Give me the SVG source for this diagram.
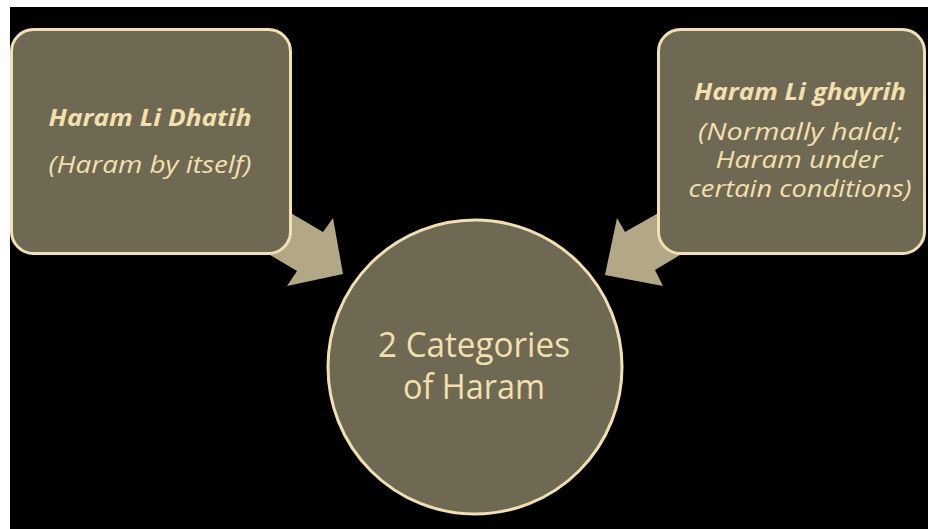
<svg xmlns="http://www.w3.org/2000/svg" width="928" height="529" viewBox="0 0 928 529">
<style>
.bg{fill:#000}
.box{fill:#6f6852;stroke:#f1e0b0;stroke-width:3}
.arrow{fill:#b3a886}
text{font-family:"Open Sans","Noto Sans","Liberation Sans",sans-serif;fill:#f2e0ae;text-anchor:middle}
.b{font-weight:bold;font-style:italic;font-size:24px}
.i{font-style:italic;font-size:24px}
.c{font-size:35px}
</style>
<rect x="0" y="0" width="928" height="529" fill="#fff"/>
<rect class="bg" x="10" y="7" width="918" height="522"/>
<g id="connectors">
<polygon class="arrow" points="260,195 323,232 333,218 343,274 287,286 297,271 255,246"/>
<polygon class="arrow" points="690,195 625,232 617,218 605,275 663,286 655,270 695,246"/>
</g>
<g id="node-left">
<rect class="box" x="11.5" y="29.5" width="279" height="224" rx="22"/>
<text class="b" x="150" y="126" textLength="203" lengthAdjust="spacingAndGlyphs">Haram Li Dhatih</text>
<text class="i" x="150" y="173" textLength="203" lengthAdjust="spacingAndGlyphs">(Haram by itself)</text>
</g>
<g id="node-right">
<rect class="box" x="658.5" y="29.5" width="266" height="224" rx="22"/>
<text class="b" x="800" y="100" textLength="212" lengthAdjust="spacingAndGlyphs">Haram Li ghayrih</text>
<text class="i" x="800" y="140" textLength="204" lengthAdjust="spacingAndGlyphs">(Normally halal;</text>
<text class="i" x="799" y="168" textLength="167" lengthAdjust="spacingAndGlyphs">Haram under</text>
<text class="i" x="800" y="197" textLength="223" lengthAdjust="spacingAndGlyphs">certain conditions)</text>
</g>
<g id="node-center">
<circle class="box" cx="475" cy="367" r="147"/>
<text class="c" x="474" y="357" textLength="192" lengthAdjust="spacingAndGlyphs">2 Categories</text>
<text class="c" x="474" y="399" textLength="142" lengthAdjust="spacingAndGlyphs">of Haram</text>
</g>
</svg>
